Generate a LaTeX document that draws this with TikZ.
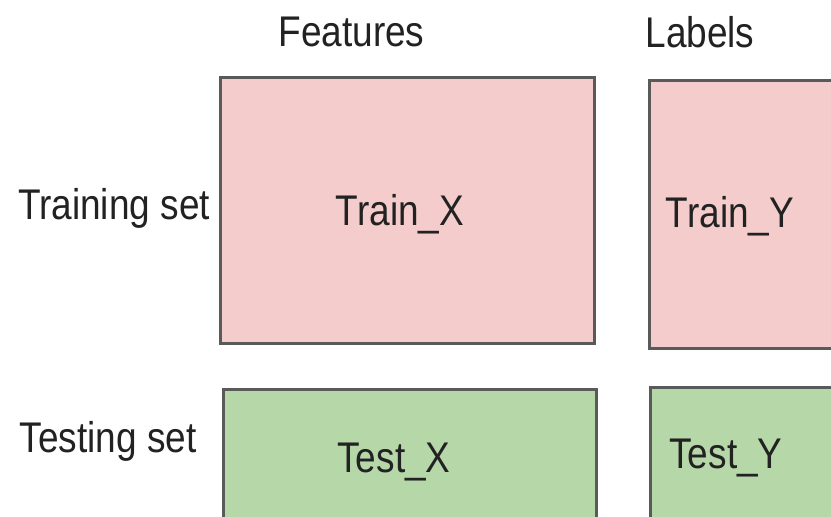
\documentclass[tikz,border=0pt]{standalone}
\usepackage{fontspec}
\setmainfont{Liberation Sans}
\newcommand\tallword[1]{\scalebox{1}[1.16]{#1}}
\definecolor{trainfill}{HTML}{F4CCCC}
\definecolor{testfill}{HTML}{B6D7A8}
\definecolor{edgegray}{HTML}{5A5A5A}
\definecolor{inkgray}{HTML}{222222}
\tikzset{
  cell/.style={draw=edgegray, line width=3pt, inner sep=0pt, anchor=north west},
  trainbox/.style={cell, fill=trainfill},
  testbox/.style={cell, fill=testfill},
  caption/.style={font=\fontsize{37}{40}\selectfont, text=inkgray, anchor=base, inner sep=0pt}
}
\begin{document}
\begin{tikzpicture}[x=1pt, y=-1pt]
  \useasboundingbox (0,0) rectangle (831,517);
  \clip (0,0) rectangle (831,517);
  \fill[white] (0,0) rectangle (831,517);

  % data blocks
  \node (trainx) [trainbox, minimum width=374pt, minimum height=266pt] at (219,76) {};
  \node (trainy) [trainbox, minimum width=190pt, minimum height=268pt] at (648,79) {};
  \node (testx)  [testbox,  minimum width=373pt, minimum height=140pt] at (222,388) {};
  \node (testy)  [testbox,  minimum width=190pt, minimum height=140pt] at (649,386) {};

  % column headings
  \node (feat) [caption] at (351.5,46) {\tallword{Features}};
  \node (labs) [caption] at (700,47) {\tallword{Labels}};

  % row headings
  \node (trainrow) [caption] at (114,219) {\tallword{Training set}};
  \node (testrow)  [caption] at (108,452) {\tallword{Testing set}};

  % block names
  \node (trainxt) [caption] at (400,225) {\tallword{Train\_X}};
  \node (trainyt) [caption] at (730,227) {\tallword{Train\_Y}};
  \node (testxt)  [caption] at (394,472) {\tallword{Test\_X}};
  \node (testyt)  [caption] at (726,468) {\tallword{Test\_Y}};
\end{tikzpicture}
\end{document}
